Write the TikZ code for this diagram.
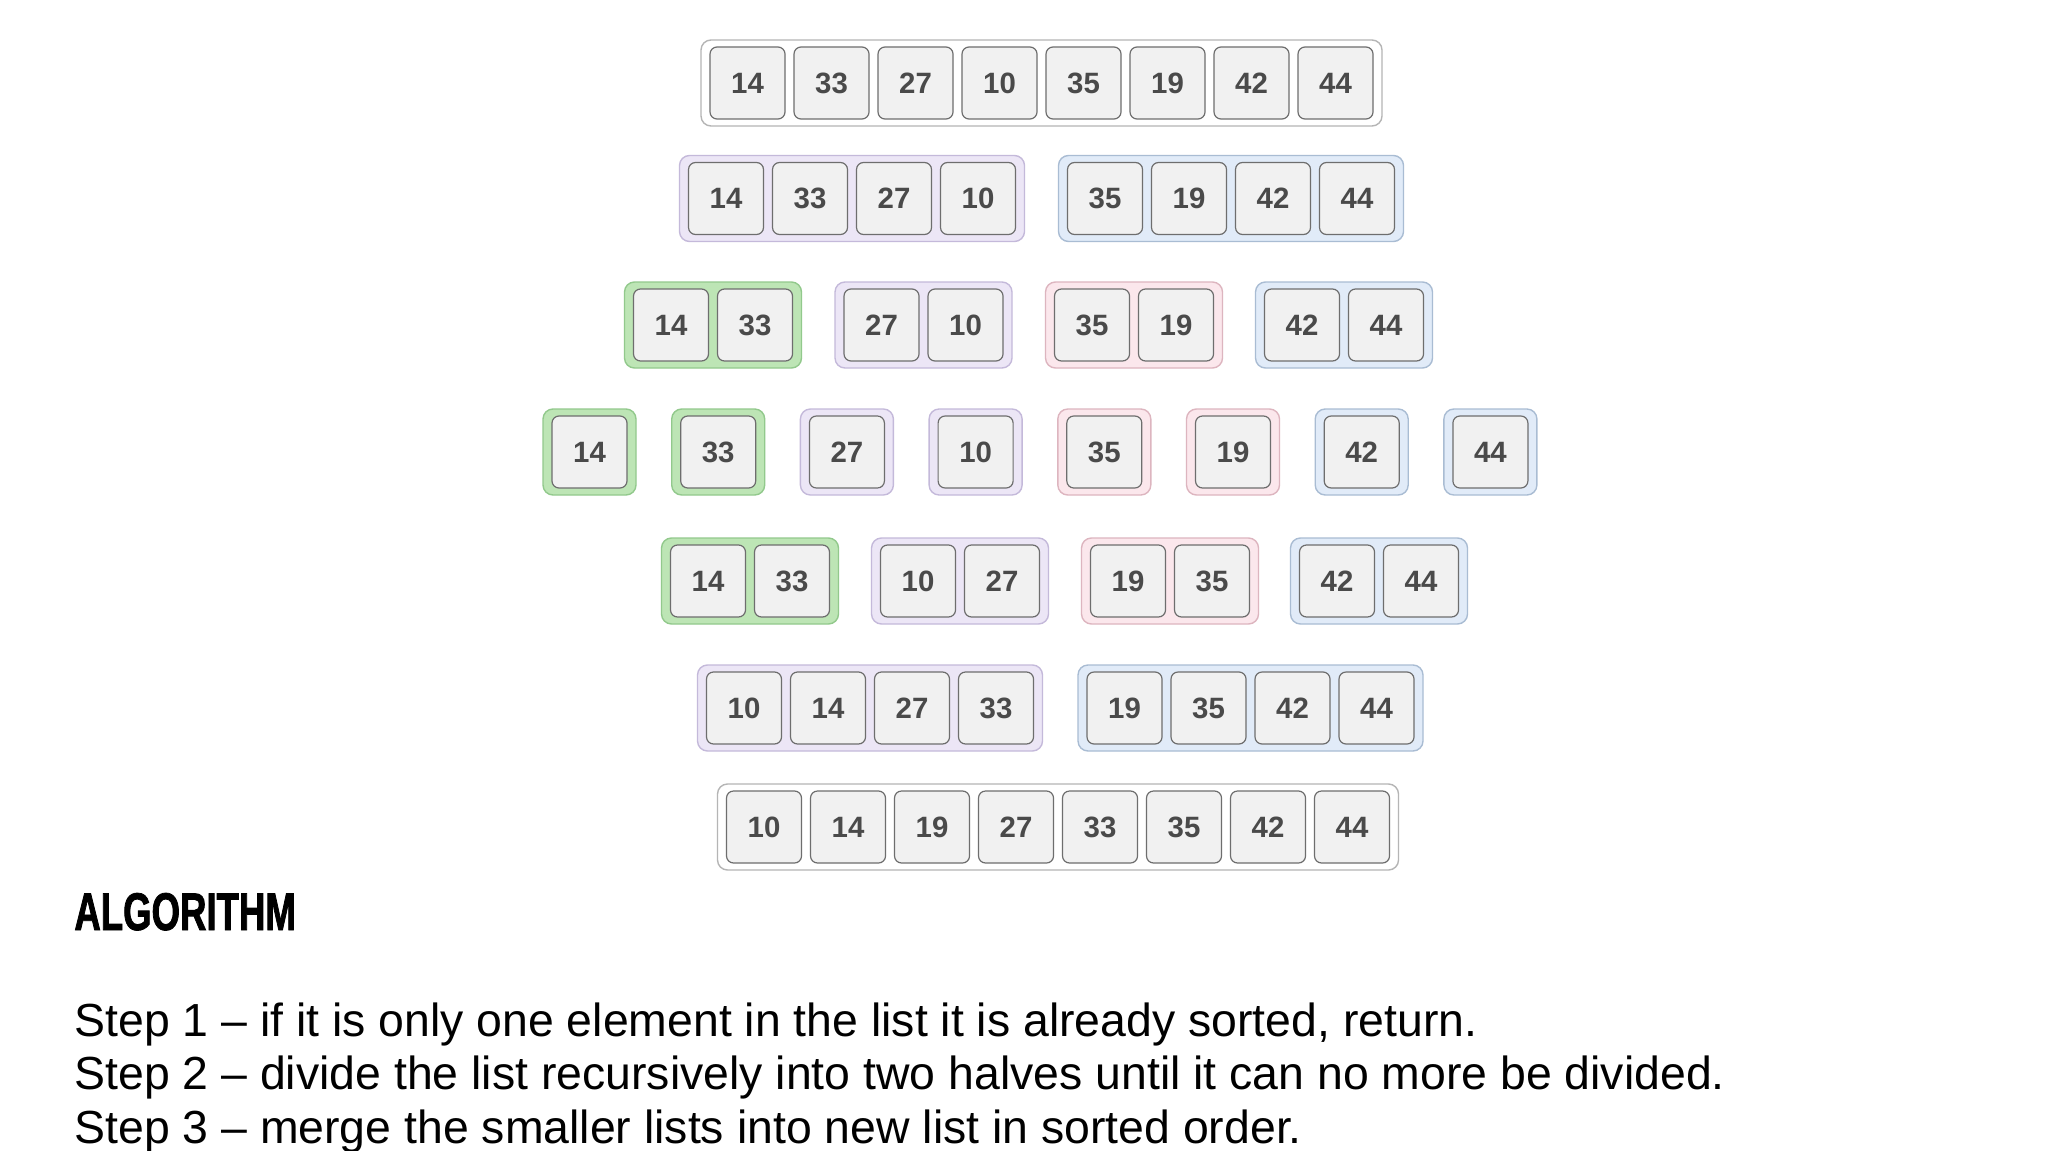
\documentclass[tikz,border=0pt]{standalone}
\usepackage{fontspec}
\setmainfont{Liberation Sans}
\newfontfamily\headfont[FakeStretch=0.69,FakeBold=1.5]{Liberation Sans}
\definecolor{cellbd}{HTML}{6E6E6E}
\definecolor{cellbg}{HTML}{F1F1F1}
\definecolor{numtx}{HTML}{4A4A4A}
\definecolor{grayBd}{HTML}{B5B5B5}
\definecolor{greenBd}{HTML}{92C98C}
\definecolor{greenBg}{HTML}{BDE5B5}
\definecolor{purpleBd}{HTML}{C4B9DA}
\definecolor{purpleBg}{HTML}{ECE6F6}
\definecolor{pinkBd}{HTML}{DDB5BF}
\definecolor{pinkBg}{HTML}{FBE7EC}
\definecolor{blueBd}{HTML}{A9BCD3}
\definecolor{blueBg}{HTML}{E1EBF8}
\newcommand\cellgroup[6]{%
  \node[#2, minimum width={(#5*84+9)*0.5pt}] (#1) at ({#3+(#5-1)*42},#4) {};
  \foreach \v [count=\i] in {#6} {\node[cell] (#1-\i) at ({#3+(\i-1)*84},#4) {\v};}
}
\begin{document}
\begin{tikzpicture}[x=0.5pt,y=-0.5pt,
  cell/.style={draw=cellbd, fill=cellbg, line width=0.6pt, rounded corners=3.5pt,
    minimum width=37.5pt, minimum height=36pt, inner sep=0pt,
    font=\fontsize{14.7}{16}\selectfont\bfseries, text=numtx},
  grp/.style={rounded corners=5pt, line width=0.7pt, inner sep=0pt, minimum height=43pt},
  ggray/.style={grp, draw=grayBd, fill=white},
  ggreen/.style={grp, draw=greenBd, fill=greenBg},
  gpurple/.style={grp, draw=purpleBd, fill=purpleBg},
  gpink/.style={grp, draw=pinkBd, fill=pinkBg},
  gblue/.style={grp, draw=blueBd, fill=blueBg},
  steptext/.style={anchor=base west, inner sep=0pt, font=\fontsize{23.2}{26.75}\selectfont, text=black}
]
\useasboundingbox[fill=white] (0,0) rectangle (2048,1150);
% row 1
\cellgroup{r1}{ggray}{747.5}{83}{8}{14,33,27,10,35,19,42,44}
% row 2
\cellgroup{r2a}{gpurple}{726}{198.5}{4}{14,33,27,10}
\cellgroup{r2b}{gblue}{1105}{198.5}{4}{35,19,42,44}
% row 3
\cellgroup{r3a}{ggreen}{671}{325}{2}{14,33}
\cellgroup{r3b}{gpurple}{881.5}{325}{2}{27,10}
\cellgroup{r3c}{gpink}{1092}{325}{2}{35,19}
\cellgroup{r3d}{gblue}{1302}{325}{2}{42,44}
% row 4
\cellgroup{r4a}{ggreen}{589.5}{452}{1}{14}
\cellgroup{r4b}{ggreen}{718.2}{452}{1}{33}
\cellgroup{r4c}{gpurple}{846.9}{452}{1}{27}
\cellgroup{r4d}{gpurple}{975.6}{452}{1}{10}
\cellgroup{r4e}{gpink}{1104.3}{452}{1}{35}
\cellgroup{r4f}{gpink}{1233}{452}{1}{19}
\cellgroup{r4g}{gblue}{1361.7}{452}{1}{42}
\cellgroup{r4h}{gblue}{1490.4}{452}{1}{44}
% row 5
\cellgroup{r5a}{ggreen}{708}{581}{2}{14,33}
\cellgroup{r5b}{gpurple}{918}{581}{2}{10,27}
\cellgroup{r5c}{gpink}{1128}{581}{2}{19,35}
\cellgroup{r5d}{gblue}{1337}{581}{2}{42,44}
% row 6
\cellgroup{r6a}{gpurple}{744}{708}{4}{10,14,27,33}
\cellgroup{r6b}{gblue}{1124.5}{708}{4}{19,35,42,44}
% row 7
\cellgroup{r7}{ggray}{764}{827}{8}{10,14,19,27,33,35,42,44}
% text
\node[anchor=base west, inner sep=0pt, font={\headfont\bfseries\fontsize{26.5}{30}\selectfont}] (head) at (74,930) {ALGORITHM};
\node[steptext] (s1) at (74,1036) {Step 1 – if it is only one element in the list it is already sorted, return.};
\node[steptext] (s2) at (74,1089.5) {Step 2 – divide the list recursively into two halves until it can no more be divided.};
\node[steptext] (s3) at (74,1143) {Step 3 – merge the smaller lists into new list in sorted order.};
\end{tikzpicture}
\end{document}
